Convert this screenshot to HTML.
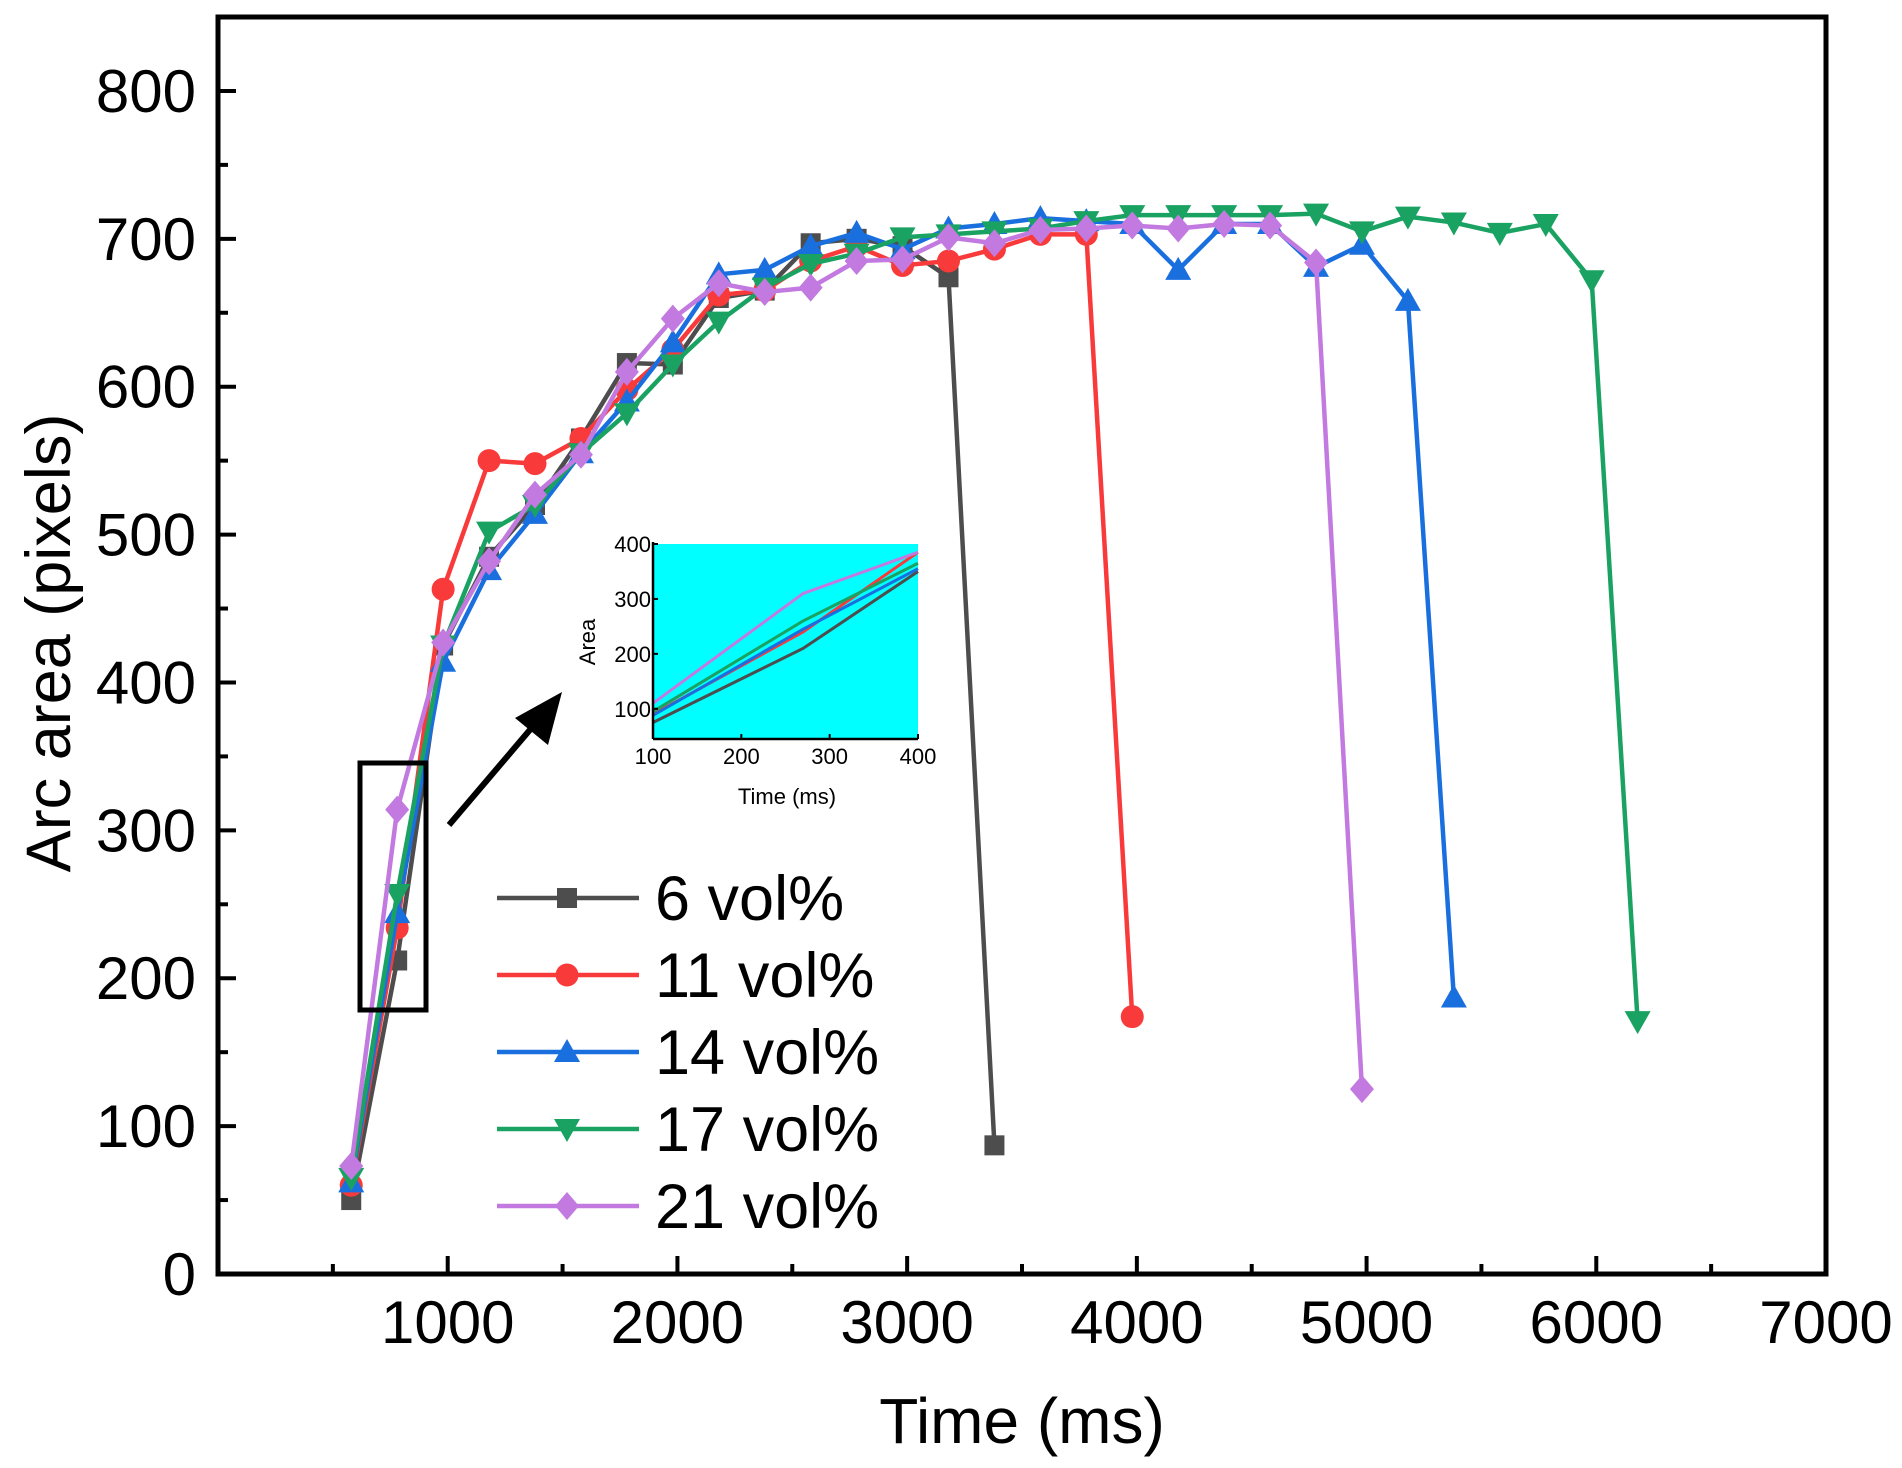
<!DOCTYPE html>
<html><head><meta charset="utf-8"><style>
html,body{margin:0;padding:0;background:#fff}
svg{display:block;font-family:"Liberation Sans",Arial,sans-serif}
</style></head><body>
<svg id="chart" width="1902" height="1468" viewBox="0 0 1902 1468" xmlns="http://www.w3.org/2000/svg">
<rect width="1902" height="1468" fill="#fff"/>
<g id="inset"></g>
<g id="series"></g>
<g id="axes"></g>
<g id="legend"></g>
<rect x="360" y="763" width="66" height="247" fill="none" stroke="#000" stroke-width="5"/>
<line x1="449" y1="825" x2="540" y2="718" stroke="#000" stroke-width="6"/>
<polygon points="562,692 515,718 548,745" fill="#000"/>
<text x="1022" y="1443" font-size="64" text-anchor="middle">Time (ms)</text>
<text transform="translate(70,643) rotate(-90)" font-size="63" text-anchor="middle">Arc area (pixels)</text>
</svg>
<script>
const NS="http://www.w3.org/2000/svg";
const times=[580,780,980,1180,1380,1580,1780,1980,2180,2380,2580,2780,2980,3180,3380,3580,3780,3980,4180,4380,4580,4780,4980,5180,5380,5580,5780,5980,6180];
const seriesNames=["6 vol%","11 vol%","14 vol%","17 vol%","21 vol%"];
const vol6=[50,212,425,485,520,565,616,615,660,665,697,700,695,674,87];
const vol11=[60,234,463,550,548,565,598,625,662,665,685,695,682,685,693,703,703,174];
const vol14=[62,244,414,476,514,555,590,630,676,679,695,704,693,707,710,714,712,710,679,710,710,681,696,658,187];
const vol17=[65,257,425,502,520,555,582,615,644,667,683,690,701,703,705,707,712,716,716,716,716,717,705,715,711,704,710,672,171];
const vol21=[73,314,427,482,527,554,610,646,670,664,667,685,686,701,697,706,707,709,707,710,709,684,125];
const xTicks=[1000,2000,3000,4000,5000,6000,7000];
const yTicks=[0,100,200,300,400,500,600,700,800];
const insetTimes=[100,270,400];
const inset6=[75,210,350];
const inset11=[90,240,385];
const inset14=[88,245,355];
const inset17=[95,260,365];
const inset21=[110,310,385];
const insetXTicks=[100,200,300,400];
const insetYTicks=[100,200,300,400];

const colors=["#4d4d4d","#f93a3a","#1a6fdf","#1aa262","#c27ae0"];
const shapes=["square","circle","tri-up","tri-down","diamond"];
const allSeries=[vol6,vol11,vol14,vol17,vol21];
const insetSeries=[inset6,inset11,inset14,inset17,inset21];

const L=218,R=1826,T=17,B=1274;
const xMin=0,xMax=7000,yMin=0,yMax=850;
const X=v=>L+(v-xMin)/(xMax-xMin)*(R-L);
const Y=v=>B-(v-yMin)/(yMax-yMin)*(B-T);
const IL=653,IR=918,IT=544,IB=739;
const IX=v=>IL+(v-100)/300*(IR-IL);
const IY=v=>IB-(v-45)/355*(IB-IT);

function mk(tag,attrs,parent){const e=document.createElementNS(NS,tag);for(const k in attrs)e.setAttribute(k,attrs[k]);parent.appendChild(e);return e;}
function marker(shape,x,y,c,s,parent){
  let e;
  if(shape==="square")e=mk("rect",{x:x-s,y:y-s,width:2*s,height:2*s,fill:c},parent);
  else if(shape==="circle")e=mk("circle",{cx:x,cy:y,r:s*1.15,fill:c},parent);
  else if(shape==="tri-up")e=mk("polygon",{points:`${x},${y-s*1.3} ${x-s*1.3},${y+s} ${x+s*1.3},${y+s}`,fill:c},parent);
  else if(shape==="tri-down")e=mk("polygon",{points:`${x},${y+s*1.3} ${x-s*1.3},${y-s} ${x+s*1.3},${y-s}`,fill:c},parent);
  else e=mk("polygon",{points:`${x},${y-s*1.4} ${x+s*1.2},${y} ${x},${y+s*1.4} ${x-s*1.2},${y}`,fill:c},parent);
  return e;
}

const ig=document.getElementById("inset");
let bg=mk("rect",{x:IL,y:IT,width:IR-IL,height:IB-IT,fill:"#00ffff"},ig);


insetSeries.forEach((s,i)=>{
  const p=mk("polyline",{points:s.map((v,j)=>IX(insetTimes[j])+","+IY(v)).join(" "),fill:"none",stroke:colors[i],"stroke-width":3},ig);
  
  
});
mk("line",{x1:IL,y1:IT-2,x2:IL,y2:IB,stroke:"#000","stroke-width":2.5},ig);
mk("line",{x1:IL,y1:IB,x2:IR,y2:IB,stroke:"#000","stroke-width":2.5},ig);
insetXTicks.forEach(t=>{
  mk("line",{x1:IX(t),y1:IB,x2:IX(t),y2:IB-5,stroke:"#000","stroke-width":2},ig);
  const tx=mk("text",{x:IX(t),y:IB+25,"font-size":22,"text-anchor":"middle"},ig);tx.textContent=t;
  
  
});
insetYTicks.forEach(t=>{
  mk("line",{x1:IL,y1:IY(t),x2:IL+5,y2:IY(t),stroke:"#000","stroke-width":2},ig);
  const tx=mk("text",{x:IL-2,y:IY(t)+8,"font-size":22,"text-anchor":"end"},ig);tx.textContent=t;
  
  
});
let it=mk("text",{x:787,y:804,"font-size":22,"text-anchor":"middle"},ig);it.textContent="Time (ms)";


it=mk("text",{transform:"translate(595,642) rotate(-90)","font-size":22,"text-anchor":"middle"},ig);it.textContent="Area";



const sg=document.getElementById("series");
allSeries.forEach((s,i)=>{
  const g=mk("g",{},sg);
  
  
  mk("polyline",{points:s.map((v,j)=>X(times[j])+","+Y(v)).join(" "),fill:"none",stroke:colors[i],"stroke-width":4.5,"stroke-linejoin":"round"},g);
  s.forEach((v,j)=>{
    const m=marker(shapes[i],X(times[j]),Y(v),colors[i],10,g);
    
    
  });
});

const ag=document.getElementById("axes");
mk("rect",{x:L,y:T,width:R-L,height:B-T,fill:"none",stroke:"#000","stroke-width":5},ag);
for(let t=500;t<7000;t+=500){
  const major=t%1000===0;
  mk("line",{x1:X(t),y1:B,x2:X(t),y2:B-(major?18:10),stroke:"#000","stroke-width":4},ag);
}
for(let t=50;t<=800;t+=50){
  const major=t%100===0;
  mk("line",{x1:L,y1:Y(t),x2:L+(major?18:10),y2:Y(t),stroke:"#000","stroke-width":4},ag);
}
xTicks.forEach(t=>{
  const tx=mk("text",{x:X(t),y:1343,"font-size":60,"text-anchor":"middle"},ag);tx.textContent=t;
  
  
});
yTicks.forEach(t=>{
  const tx=mk("text",{x:196,y:Y(t)+21,"font-size":60,"text-anchor":"end"},ag);tx.textContent=t;
  
  
});

const lg=document.getElementById("legend");
seriesNames.forEach((n,i)=>{
  const y=898+i*77;
  const g=mk("g",{},lg);
  
  
  mk("line",{x1:497,y1:y,x2:639,y2:y,stroke:colors[i],"stroke-width":4.5},g);
  marker(shapes[i],567,y,colors[i],10,g);
  const tx=mk("text",{x:655,y:y+22,"font-size":63},g);tx.textContent=n;
});
</script>
</body></html>
